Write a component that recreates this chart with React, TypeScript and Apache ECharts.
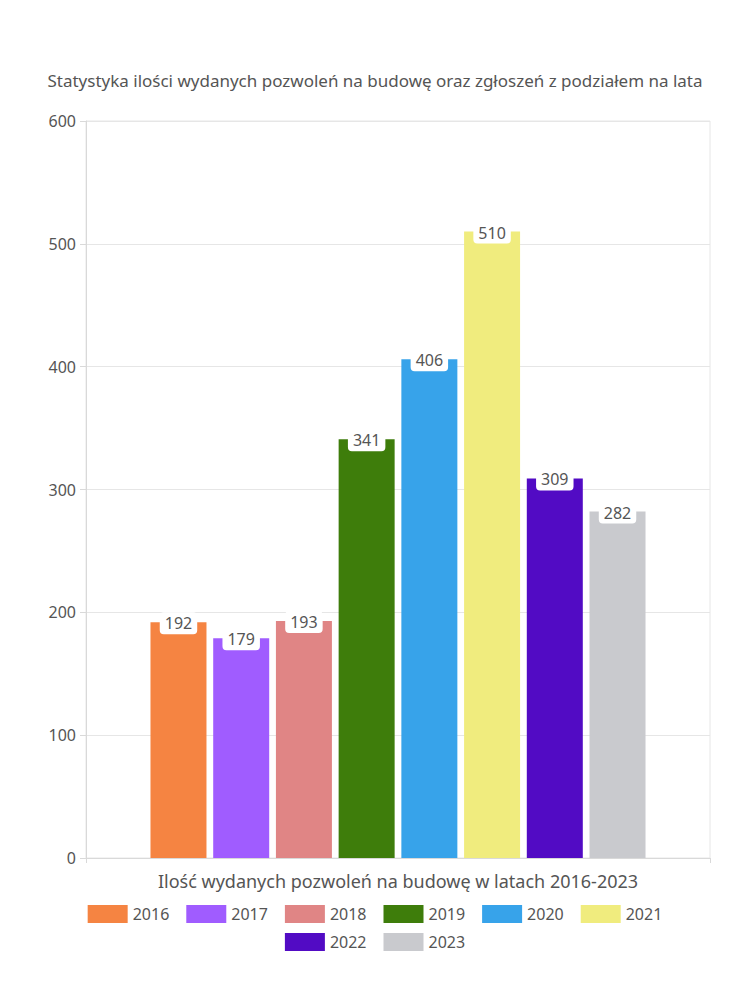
import React, { useEffect, useRef } from "react";
import * as echarts from "echarts";

const years = ["2016", "2017", "2018", "2019", "2020", "2021", "2022", "2023"];
const values = [192, 179, 193, 341, 406, 510, 309, 282];
const colors = ["#F58442", "#A05CFF", "#E08585", "#3E7D0B", "#37A3EA", "#F0EC7E", "#520BC4", "#C9CACE"];
const categories = [""];
const titleText = "Statystyka ilości wydanych pozwoleń na budowę oraz zgłoszeń z podziałem na lata";
const xAxisName = "Ilość wydanych pozwoleń na budowę w latach 2016-2023";

const FONT = "Noto Sans";
const TXT = "#555";

export default function App() {
  const ref = useRef<HTMLDivElement>(null);
  useEffect(() => {
    if (!ref.current) return;
    const chart = echarts.init(ref.current, undefined, { renderer: "svg" });
    const legendCommon = {
      orient: "horizontal",
      left: "center",
      itemWidth: 40,
      itemHeight: 18,
      itemGap: 17,
      icon: "rect",
      textStyle: { fontFamily: FONT, fontSize: 16, color: TXT },
    };
    chart.setOption({
      animation: false,
      textStyle: { fontFamily: FONT },
      title: {
        text: titleText,
        left: "center",
        top: 67,
        textStyle: { fontFamily: FONT, fontSize: 17, fontWeight: "normal", color: TXT },
      },
      grid: { left: 86, right: 40, top: 121, bottom: 142, show: true, borderColor: "#e6e6e6", borderWidth: 1 },
      legend: [
        { ...legendCommon, top: 900, data: years.slice(0, 6) },
        { ...legendCommon, top: 928, data: years.slice(6) },
      ],
      xAxis: {
        type: "category",
        data: categories,
        name: xAxisName,
        nameLocation: "middle",
        nameGap: 14,
        nameTextStyle: { fontFamily: FONT, fontSize: 18, color: TXT },
        axisLine: { lineStyle: { color: "#d9d9d9" } },
        axisTick: { show: true, alignWithLabel: false, lineStyle: { color: "#d9d9d9" } },
        axisLabel: { show: false },
      },
      yAxis: {
        type: "value",
        min: 0,
        max: 600,
        interval: 100,
        axisLine: { show: true, lineStyle: { color: "#d9d9d9" } },
        axisTick: { show: true, length: 6, lineStyle: { color: "#d9d9d9" } },
        axisLabel: { fontFamily: FONT, fontSize: 16, color: TXT, margin: 10 },
        splitLine: { lineStyle: { color: "#e6e6e6" } },
      },
      series: years.map((y, i) => ({
        name: y,
        type: "bar",
        data: [values[i]],
        barWidth: 56,
        barGap: "12%",
        itemStyle: { color: colors[i] },
        label: {
          show: true,
          position: "top",
          distance: -12,
          fontFamily: FONT,
          fontSize: 16,
          color: TXT,
          backgroundColor: "#fff",
          borderRadius: 4,
          padding: [3, 5],
        },
      })),
    });
    return () => chart.dispose();
  }, []);
  return <div ref={ref} style={{ position: "fixed", left: 0, top: 0, width: 750, height: 1000, background: "#fff" }} />;
}
